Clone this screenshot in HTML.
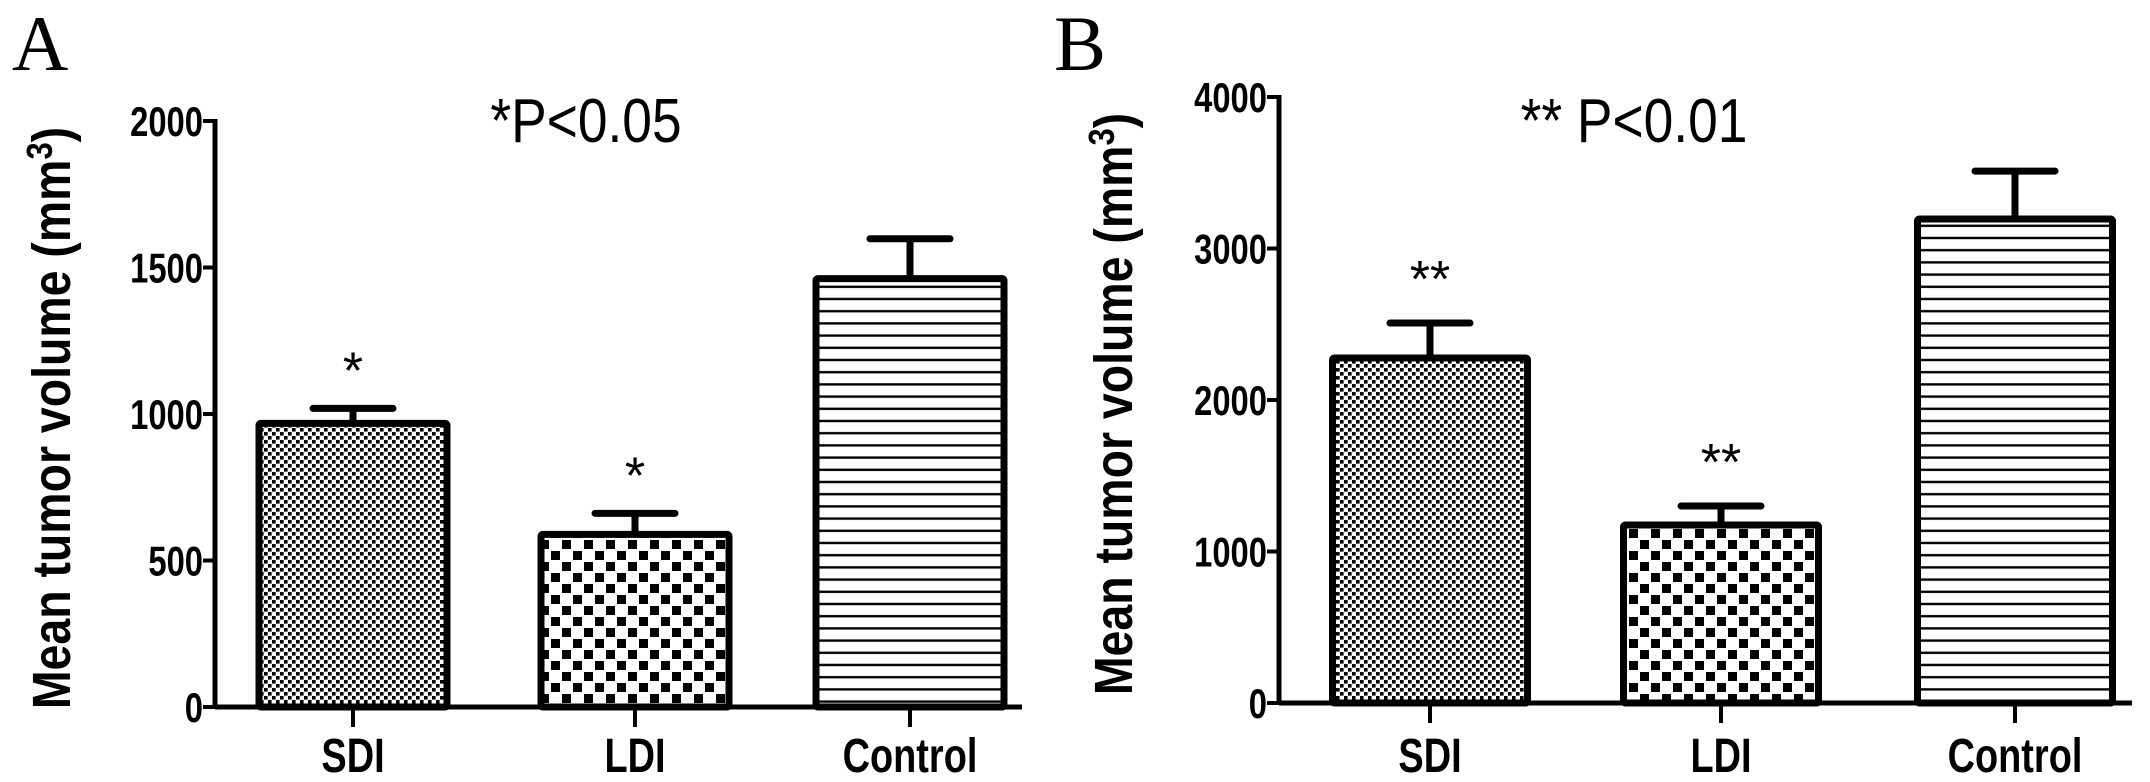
<!DOCTYPE html>
<html><head><meta charset="utf-8"><style>
html,body{margin:0;padding:0;background:#fff;}
svg{display:block;}
text{font-family:"Liberation Sans",sans-serif;fill:#000;}
</style></head><body>
<svg id="fig" width="2150" height="782" viewBox="0 0 2150 782">
<defs>
<pattern id="pSDI" width="8" height="8" patternUnits="userSpaceOnUse">
<rect width="8" height="8" fill="#fff"/><rect x="0" y="0" width="3.6" height="3.6" fill="#000"/><rect x="4" y="4" width="3.6" height="3.6" fill="#000"/>
</pattern>
<pattern id="pLDI" width="22" height="22" patternUnits="userSpaceOnUse">
<rect width="22" height="22" fill="#fff"/><rect x="1" y="1" width="9" height="9" fill="#000"/><rect x="12" y="12" width="9" height="9" fill="#000"/>
</pattern>
<pattern id="pCtl" width="20" height="12.2" patternUnits="userSpaceOnUse">
<rect width="20" height="12.2" fill="#fff"/><rect x="0" y="5" width="20" height="2.4" fill="#000"/>
</pattern>
</defs>
</svg>
<script>
const categories = ["SDI","LDI","Control"];
const valuesA = [968, 589, 1462];
const errorsA = [51, 72, 136];
const valuesB = [2277, 1175, 3195];
const errorsB = [231, 125, 316];
const ticksA = [0, 500, 1000, 1500, 2000];
const ticksB = [0, 1000, 2000, 3000, 4000];
const starsA = ["*","*",""];
const starsB = ["**","**",""];

const NS = "http://www.w3.org/2000/svg";
const svg = document.getElementById("fig");
function mk(tag, attrs, parent){
  const e = document.createElementNS(NS, tag);
  for (const k in attrs) e.setAttribute(k, attrs[k]);
  (parent||svg).appendChild(e);
  return e;
}
const pats = ["url(#pSDI)","url(#pLDI)","url(#pCtl)"];

function panel(cfg){
  const g = mk("g", {});
  
  
  const y = v => cfg.y0 - (v / cfg.max) * (cfg.y0 - cfg.yTop);
  const L = mk("text", {x: cfg.letterX, y: 70, "font-size": 78, style: 'font-family:"Liberation Serif",serif'}, g);
  L.textContent = cfg.letter;
  
  
  const T = mk("text", {x: 0, y: 0, "font-size": 62, "text-anchor": "middle", transform: `translate(${cfg.titleX},142) scale(0.86,1)`}, g);
  T.textContent = cfg.title;
  
  
  const yt = mk("text", {x: 0, y: 0, "font-size": 54, "font-weight": "bold", "text-anchor": "middle", transform: `translate(${cfg.ytX},${cfg.ytY}) rotate(-90) scale(0.86,1)`}, g);
  yt.innerHTML = 'Mean tumor volume (mm<tspan dy="-18" font-size="36">3</tspan><tspan dy="18">)</tspan>';
  
  
  categories.forEach((c, i) => {
    const cx = cfg.centers[i], w = cfg.barW;
    const top = y(cfg.values[i]), et = y(cfg.values[i] + cfg.errors[i]);
    const eb = mk("line", {x1: cx, x2: cx, y1: top, y2: et, stroke: "#000", "stroke-width": 7}, g);
    
    
    const cap = mk("line", {x1: cx - 40, x2: cx + 40, y1: et, y2: et, stroke: "#000", "stroke-width": 7, "stroke-linecap": "round"}, g);
    
    
    const b = mk("rect", {x: cx - w/2, y: top, width: w, height: cfg.y0 - top, fill: pats[i], stroke: "#000", "stroke-width": 7, rx: 2}, g);
    
    
    if (cfg.stars[i]) {
      const s = mk("text", {x: cx, y: y(cfg.values[i] + cfg.errors[i]) - cfg.starGap, "font-size": 52, "text-anchor": "middle"}, g);
      s.textContent = cfg.stars[i];
      
      
    }
    const tk = mk("line", {x1: cx, x2: cx, y1: cfg.y0, y2: cfg.y0 + 20, stroke: "#000", "stroke-width": 4}, g);
    
    
    const lb = mk("text", {x: 0, y: 0, "font-size": 48, "font-weight": "bold", "text-anchor": "middle", transform: `translate(${cx},772) scale(0.79,1)`}, g);
    lb.textContent = c;
    
    
  });
  const ya = mk("line", {x1: cfg.ax, x2: cfg.ax, y1: cfg.yTop - 2, y2: cfg.y0 + 2, stroke: "#000", "stroke-width": 5}, g);
  
  
  const xa = mk("line", {x1: cfg.ax, x2: cfg.xEnd, y1: cfg.y0, y2: cfg.y0, stroke: "#000", "stroke-width": 5}, g);
  
  
  cfg.ticks.forEach(t => {
    const yy = y(t);
    const tl = mk("line", {x1: cfg.ax - 12, x2: cfg.ax, y1: yy, y2: yy, stroke: "#000", "stroke-width": 4}, g);
    
    
    const tt = mk("text", {x: 0, y: 0, "font-size": 42, "font-weight": "bold", "text-anchor": "end", transform: `translate(${cfg.ax - 12},${yy + 15}) scale(0.78,1)`}, g);
    tt.textContent = t;
    
    
  });
}
panel({name:"panel-a", letter:"A", letterX:12, title:"*P<0.05", titleX:586,
  ax:215, xEnd:1022, y0:707, yTop:121, max:2000, ticks:ticksA,
  values:valuesA, errors:errorsA, stars:starsA, centers:[353,635,910], barW:188,
  ytX:70, ytY:418, starGap:20});
panel({name:"panel-b", letter:"B", letterX:1054, title:"** P<0.01", titleX:1634,
  ax:1279, xEnd:2132, y0:703, yTop:97, max:4000, ticks:ticksB,
  values:valuesB, errors:errorsB, stars:starsB, centers:[1430,1721,2015], barW:195,
  ytX:1132, ytY:404, starGap:26});
</script>
</body></html>
